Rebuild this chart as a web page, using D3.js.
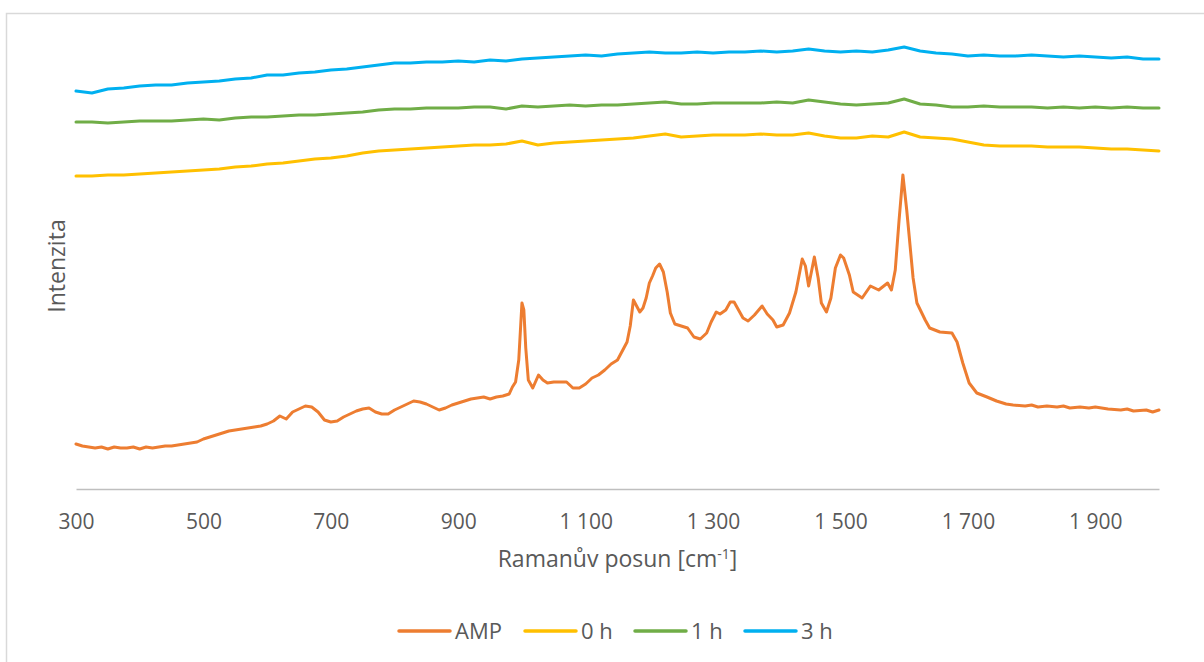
<!DOCTYPE html>
<html>
<head>
<meta charset="utf-8">
<script src="https://cdn.jsdelivr.net/npm/d3@7"></script>
<style>
  body { margin: 0; background: #fff; }
  svg { display: block; font-family: "Open Sans", Lato, sans-serif; }
</style>
</head>
<body>
<svg id="chart"></svg>
<script>
const width = 1204, height = 662;
const margin = { top: 38, right: 45, bottom: 174, left: 76 };
const plotWidth = width - margin.left - margin.right;
const plotHeight = height - margin.top - margin.bottom;

// Series names and colours
const seriesNames = ["AMP", "0 h", "1 h", "3 h"];
const seriesColors = ["#ED7D31", "#FFC000", "#70AD47", "#00B0F0"];
const xTicks = [300, 500, 700, 900, 1100, 1300, 1500, 1700, 1900];

// AMP spectrum: [Raman shift, intensity]
const ampData = [
  [300, 44], [310, 42], [320, 41], [330, 40], [340, 41], [350, 39], [360, 41], [370, 40],
  [380, 40], [390, 41], [400, 39], [410, 41], [420, 40], [430, 41], [440, 42], [450, 42],
  [460, 43], [470, 44], [480, 45], [490, 46], [500, 49], [510, 51], [520, 53], [530, 55],
  [540, 57], [550, 58], [560, 59], [570, 60], [580, 61], [590, 62], [600, 64], [610, 67],
  [620, 72], [630, 69], [640, 76], [650, 79], [660, 82], [670, 81], [680, 76], [690, 68],
  [700, 66], [710, 67], [720, 71], [730, 74], [740, 77], [750, 79], [760, 80], [770, 76],
  [780, 74], [790, 74], [800, 78], [810, 81], [820, 84], [830, 87], [840, 86], [850, 84],
  [860, 81], [870, 78], [880, 80], [890, 83], [900, 85], [910, 87], [920, 89], [930, 90],
  [940, 91], [950, 89], [960, 91], [970, 92], [980, 94], [985, 101], [990, 106], [995, 128],
  [1000, 185], [1003, 178], [1006, 140], [1010, 108], [1017, 100], [1026, 113], [1033, 108],
  [1040, 105], [1050, 106], [1060, 106], [1070, 106], [1080, 100], [1090, 100], [1100, 104],
  [1110, 110], [1120, 113], [1130, 118], [1140, 124], [1150, 128], [1160, 140], [1165, 146],
  [1170, 162], [1175, 188], [1180, 182], [1185, 176], [1190, 180], [1195, 190], [1200, 205],
  [1205, 212], [1210, 220], [1216, 224], [1222, 216], [1228, 196], [1233, 175], [1240, 164],
  [1250, 162], [1260, 160], [1270, 151], [1280, 149], [1290, 155], [1297, 166], [1305, 176],
  [1311, 174], [1320, 178], [1327, 186], [1333, 186], [1340, 178], [1347, 170], [1355, 167],
  [1365, 173], [1377, 182], [1385, 174], [1394, 168], [1400, 161], [1410, 163], [1420, 175],
  [1430, 196], [1440, 229], [1445, 222], [1450, 202], [1459, 231], [1465, 210], [1470, 185],
  [1478, 176], [1485, 190], [1492, 220], [1500, 233], [1505, 230], [1514, 213], [1520, 196],
  [1534, 190], [1547, 202], [1560, 198], [1574, 205], [1580, 198], [1586, 218], [1592, 268],
  [1598, 313], [1604, 278], [1614, 210], [1620, 185], [1633, 168], [1640, 160], [1656, 156],
  [1675, 155], [1683, 146], [1692, 125], [1702, 105], [1714, 95], [1730, 91], [1745, 87],
  [1760, 84], [1771, 83], [1790, 82], [1800, 83], [1810, 81], [1824, 82], [1840, 81],
  [1850, 82], [1860, 80], [1876, 81], [1890, 80], [1900, 81], [1920, 79], [1940, 78],
  [1950, 79], [1960, 77], [1980, 78], [1990, 76], [2000, 78]
];

// Shared Raman shift grid for the three time series (every 25 cm-1)
const shifts = [
  300, 325, 350, 375, 400, 425, 450, 475, 500, 525, 550, 575, 600, 625, 650, 675, 700, 725,
  750, 775, 800, 825, 850, 875, 900, 925, 950, 975, 1000, 1025, 1050, 1075, 1100, 1125, 1150,
  1175, 1200, 1225, 1250, 1275, 1300, 1325, 1350, 1375, 1400, 1425, 1450, 1475, 1500, 1525,
  1550, 1575, 1600, 1625, 1650, 1675, 1700, 1725, 1750, 1775, 1800, 1825, 1850, 1875, 1900,
  1925, 1950, 1975, 2000
];
const h0 = [
  312, 312, 313, 313, 314, 315, 316, 317, 318, 319, 321, 322, 324, 325, 327, 329, 330, 332,
  335, 337, 338, 339, 340, 341, 342, 343, 343, 344, 347, 343, 345, 346, 347, 348, 349,
  350, 352, 354, 351, 352, 353, 353, 353, 354, 353, 353, 355, 352, 350, 350,
  352, 351, 356, 351, 350, 349, 346, 343, 342, 342, 342, 341, 341, 341, 340,
  339, 339, 338, 337
];
const h1 = [
  366, 366, 365, 366, 367, 367, 367, 368, 369, 368, 370, 371, 371, 372, 373, 373, 374, 375,
  376, 378, 379, 379, 380, 380, 380, 381, 381, 379, 382, 381, 382, 383, 382, 383, 383,
  384, 385, 386, 384, 384, 385, 385, 385, 385, 386, 385, 388, 386, 384, 383,
  384, 385, 389, 384, 383, 381, 381, 382, 381, 381, 381, 380, 381, 380, 381,
  380, 381, 380, 380
];
const h3 = [
  397, 395, 399, 400, 402, 403, 403, 405, 406, 407, 409, 410, 413, 413, 415, 416, 418, 419,
  421, 423, 425, 425, 426, 426, 427, 426, 428, 427, 429, 430, 431, 432, 433, 432, 434,
  435, 436, 435, 435, 436, 435, 436, 436, 437, 436, 437, 439, 437, 436, 437,
  436, 438, 441, 437, 435, 434, 432, 433, 432, 432, 433, 432, 431, 432, 431,
  430, 431, 429, 429
];

const series = [
  ampData,
  shifts.map((s, i) => [s, h0[i]]),
  shifts.map((s, i) => [s, h1[i]]),
  shifts.map((s, i) => [s, h3[i]])
];

const svg = d3.select("#chart")
  .attr("width", width)
  .attr("height", height)
  .attr("viewBox", [0, 0, width, height]);

// Chart border
svg.append("rect")
  .attr("x", 6.5).attr("y", 13.5)
  .attr("width", 1300).attr("height", 800)
  .attr("fill", "none")
  .attr("stroke", "#D9D9D9")
  .attr("stroke-width", 1.5);

const g = svg.append("g")
  .attr("transform", `translate(${margin.left},${margin.top})`);

const xScale = d3.scaleLinear().domain([300, 2000]).range([0, plotWidth]);
const yScale = d3.scaleLinear().domain([0, 450]).range([plotHeight, 0]);

const locale = d3.formatLocale({ decimal: ",", thousands: " ", grouping: [3], currency: ["", ""] });
const fmt = locale.format(",");

// x axis
const xAxis = g.append("g")
  .attr("transform", `translate(0,${plotHeight + 1})`)
  .call(d3.axisBottom(xScale).tickValues(xTicks).tickFormat(fmt).tickSize(0).tickSizeOuter(0));
xAxis.select(".domain").attr("stroke", "#BFBFBF").attr("stroke-width", 1.5);
xAxis.selectAll("text")
  .attr("y", 40).attr("dy", 0)
  .attr("fill", "#595959")
  .style("font-size", "21px")
  .style("font-family", "'Open Sans', Lato, sans-serif");

// lines
const line = d3.line()
  .x(d => xScale(d[0]))
  .y(d => yScale(d[1]));

// draw in reverse so AMP sits on top
series.slice().reverse().forEach((data, ri) => {
  const i = series.length - 1 - ri;
  g.append("path")
    .datum(data)
    .attr("fill", "none")
    .attr("stroke", seriesColors[i])
    .attr("stroke-width", 3)
    .attr("stroke-linejoin", "round")
    .attr("stroke-linecap", "round")
    .attr("d", line);
});

// axis titles
const xTitle = svg.append("text")
  .attr("x", margin.left + plotWidth / 2)
  .attr("y", 567)
  .attr("text-anchor", "middle")
  .attr("fill", "#595959")
  .style("font-size", "23px");
xTitle.append("tspan").text("Ramanův posun [cm");
xTitle.append("tspan").attr("dy", -8).style("font-size", "14px").text("-1");
xTitle.append("tspan").attr("dy", 8).text("]");

svg.append("text")
  .attr("transform", `translate(65,${margin.top + plotHeight / 2 + 3}) rotate(-90)`)
  .attr("text-anchor", "middle")
  .attr("fill", "#595959")
  .style("font-size", "23px")
  .text("Intenzita");

// legend
const legendX = [398, 524, 634, 744];
const legend = svg.append("g").attr("transform", "translate(0,631)");
seriesNames.forEach((name, i) => {
  const item = legend.append("g").attr("transform", `translate(${legendX[i]},0)`);
  item.append("line")
    .attr("x1", 1).attr("x2", 52)
    .attr("stroke", seriesColors[i])
    .attr("stroke-width", 3.5)
    .attr("stroke-linecap", "round");
  item.append("text")
    .attr("x", 57).attr("y", 8)
    .attr("fill", "#595959")
    .style("font-size", "22px")
    .text(name);
});
</script>
</body>
</html>
